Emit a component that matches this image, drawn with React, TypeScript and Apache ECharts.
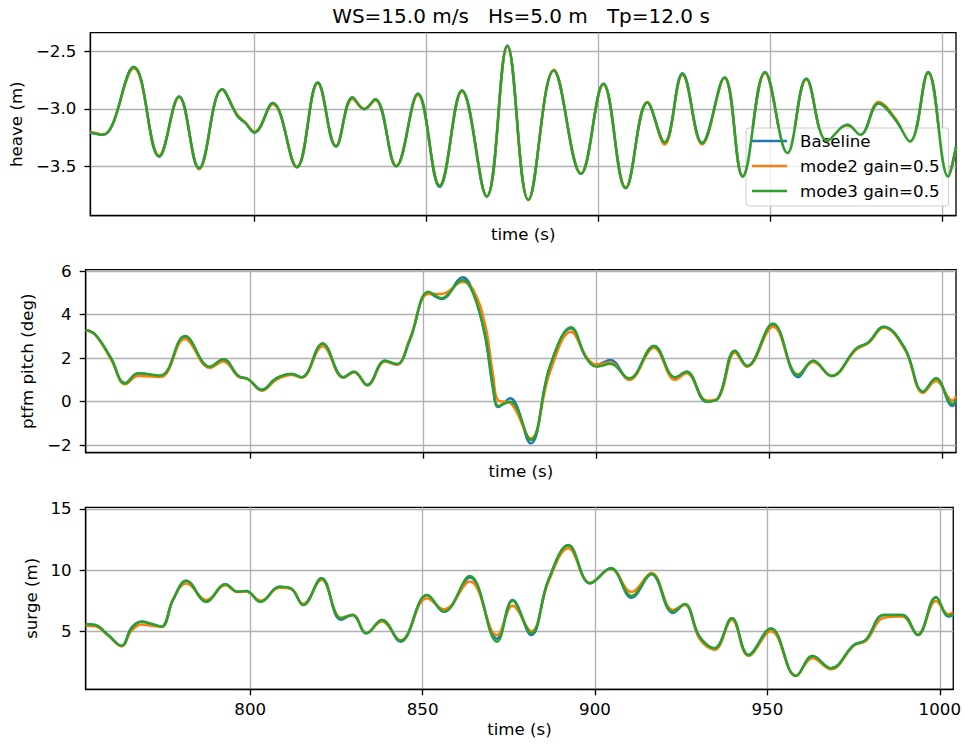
import { useEffect, useRef } from "react";
import * as echarts from "echarts";

// ---- time axis -------------------------------------------------------------
const timeMin = 752.3;
const timeMax = 1003.9;
const timeTicks = [800, 850, 900, 950, 1000];

// ---- heave (m) ------------------------------------------------------------
const heaveTicks = [-3.5, -3.0, -2.5];
const heaveTime = [
  752.3, 756.0, 764.9, 772.3, 778.1, 783.9, 790.6, 795.0, 797.4, 800.0,
  805.3, 812.3, 818.4, 823.7, 828.5, 831.9, 835.1, 841.2, 847.5, 853.8,
  860.3, 867.5, 873.5, 879.6, 887.0, 894.9, 901.4, 907.9, 914.2, 919.2,
  924.4, 930.1, 936.6, 941.9, 948.4, 954.9, 960.4, 966.5, 972.3, 976.1,
  981.4, 986.2, 990.5, 995.8, 1001.6, 1003.9,
];
const heaveBaseline = [
  -3.206, -3.226, -2.637, -3.415, -2.893, -3.515, -2.829, -3.06, -3.125, -3.206,
  -2.95, -3.505, -2.771, -3.328, -2.902, -3.003, -2.916, -3.5, -2.87, -3.68,
  -2.841, -3.763, -2.452, -3.791, -2.667, -3.565, -2.783, -3.69, -2.945, -3.293,
  -2.69, -3.298, -2.728, -3.589, -2.681, -3.385, -2.739, -3.28, -3.139, -3.226,
  -2.951, -3.09, -3.284, -2.681, -3.589, -3.33,
];
const heaveMode2 = [
  -3.2, -3.225, -2.65, -3.405, -2.9, -3.525, -2.835, -3.05, -3.12, -3.2,
  -2.96, -3.505, -2.78, -3.32, -2.915, -3.0, -2.925, -3.495, -2.88, -3.665,
  -2.85, -3.76, -2.46, -3.795, -2.66, -3.56, -2.79, -3.685, -2.94, -3.31,
  -2.705, -3.31, -2.735, -3.585, -2.69, -3.38, -2.745, -3.285, -3.145, -3.23,
  -2.94, -3.08, -3.295, -2.69, -3.58, -3.34,
];
const heaveMode3 = [
  -3.206, -3.226, -2.637, -3.415, -2.893, -3.52, -2.829, -3.06, -3.125, -3.206,
  -2.95, -3.51, -2.771, -3.328, -2.902, -3.003, -2.916, -3.5, -2.87, -3.67,
  -2.841, -3.763, -2.452, -3.791, -2.667, -3.565, -2.783, -3.69, -2.945, -3.293,
  -2.698, -3.298, -2.728, -3.589, -2.681, -3.385, -2.739, -3.28, -3.139, -3.226,
  -2.951, -3.09, -3.284, -2.681, -3.589, -3.33,
];

// ---- platform pitch (deg) --------------------------------------------------
const pitchTicks = [-2, 0, 2, 4, 6];
const pitchTime = [
  752.3, 755.0, 759.6, 763.7, 767.5, 773.9, 781.0, 788.2, 792.1, 796.4,
  799.3, 803.2, 807.4, 811.8, 814.7, 820.8, 826.8, 829.9, 833.7, 838.8,
  842.2, 846.0, 851.4, 855.2, 861.3, 864.3, 867.7, 870.1, 871.6, 875.0,
  880.9, 886.5, 892.6, 897.1, 900.0, 904.0, 909.4, 916.6, 922.7, 926.0,
  931.8, 935.1, 940.0, 943.5, 951.0, 958.3, 962.6, 967.9, 975.1, 978.5,
  983.0, 989.1, 994.4, 998.1, 1002.9, 1003.9,
];
const pitchBaseline = [
  3.3, 3.1, 2.0, 0.84, 1.3, 1.15, 3.0, 1.58, 1.95, 1.18,
  1.03, 0.55, 1.07, 1.27, 1.12, 2.66, 1.12, 1.38, 0.76, 1.88,
  1.7, 2.84, 5.0, 4.72, 5.72, 5.05, 3.05, 0.55, -0.25, 0.15,
  -1.92, 1.61, 3.38, 1.99, 1.7, 1.92, 1.0, 2.56, 1.1, 1.38,
  0.0, 0.15, 2.34, 1.64, 3.55, 1.12, 1.88, 1.18, 2.45, 2.71,
  3.45, 2.45, 0.46, 1.07, -0.2, 0.05,
];
const pitchMode2 = [
  3.28, 3.08, 1.95, 0.8, 1.18, 1.13, 2.88, 1.55, 1.85, 1.15,
  1.03, 0.5, 1.0, 1.22, 1.1, 2.56, 1.1, 1.35, 0.74, 1.85,
  1.7, 2.9, 4.95, 4.95, 5.5, 5.15, 3.6, 1.2, 0.05, -0.05,
  -1.7, 1.35, 3.22, 2.05, 1.7, 1.8, 1.0, 2.48, 1.0, 1.3,
  0.05, 0.15, 2.25, 1.6, 3.45, 1.25, 1.82, 1.18, 2.4, 2.68,
  3.4, 2.4, 0.4, 0.95, 0.05, 0.25,
];
const pitchMode3 = [
  3.3, 3.1, 2.0, 0.84, 1.3, 1.2, 3.02, 1.61, 1.95, 1.18,
  1.03, 0.53, 1.07, 1.27, 1.12, 2.68, 1.12, 1.38, 0.76, 1.88,
  1.73, 2.84, 5.06, 4.76, 5.6, 4.99, 3.14, 0.69, -0.2, 0.0,
  -1.77, 1.61, 3.42, 1.99, 1.61, 1.74, 1.07, 2.56, 1.12, 1.38,
  0.0, 0.15, 2.34, 1.64, 3.6, 1.22, 1.88, 1.18, 2.45, 2.71,
  3.45, 2.45, 0.46, 1.07, -0.11, 0.11,
];

// ---- surge (m) --------------------------------------------------------------
const surgeTicks = [5, 10, 15];
const surgeTime = [
  752.3, 755.0, 758.8, 762.7, 765.6, 768.5, 771.4, 774.3, 777.6, 781.5,
  787.3, 792.8, 796.4, 798.8, 803.0, 808.5, 811.8, 815.4, 820.7, 826.3,
  829.7, 833.7, 838.2, 843.6, 851.3, 856.2, 863.7, 871.6, 876.1, 881.5,
  886.5, 892.3, 898.6, 904.6, 910.6, 916.4, 922.6, 926.0, 930.3, 934.7,
  939.7, 944.5, 951.0, 958.3, 963.1, 968.4, 975.1, 978.5, 983.8, 989.1,
  993.6, 998.9, 1002.5, 1003.9,
];
const surgeBaseline = [
  5.57, 5.51, 4.7, 3.8, 5.3, 5.8, 5.6, 5.38, 7.56, 9.13,
  7.42, 8.84, 8.23, 8.29, 7.42, 8.64, 8.51, 7.15, 9.33, 5.95,
  6.33, 4.84, 5.92, 4.15, 7.96, 6.6, 9.4, 4.4, 7.55, 4.7,
  9.19, 12.0, 8.92, 10.14, 7.75, 9.68, 6.5, 7.2, 4.56, 3.61,
  6.06, 3.07, 5.24, 1.35, 2.98, 1.98, 3.88, 4.29, 6.33, 6.33,
  4.7, 7.78, 6.2, 6.35,
];
const surgeMode2 = [
  5.45, 5.42, 4.65, 3.78, 5.05, 5.55, 5.45, 5.35, 7.6, 8.9,
  7.55, 8.75, 8.2, 8.25, 7.5, 8.55, 8.45, 7.25, 9.2, 6.1,
  6.35, 4.85, 5.8, 4.25, 7.7, 6.8, 9.06, 4.69, 7.08, 5.0,
  9.05, 11.77, 8.95, 10.1, 8.2, 9.75, 6.75, 7.15, 4.4, 3.5,
  5.95, 3.0, 5.0, 1.4, 2.8, 1.9, 3.85, 4.2, 6.1, 6.2,
  4.75, 7.48, 6.4, 6.55,
];
const surgeMode3 = [
  5.57, 5.51, 4.7, 3.82, 5.24, 5.78, 5.6, 5.38, 7.56, 9.13,
  7.42, 8.84, 8.23, 8.29, 7.42, 8.64, 8.51, 7.15, 9.33, 6.06,
  6.33, 4.84, 5.92, 4.23, 7.96, 6.6, 9.51, 4.15, 7.5, 4.84,
  9.19, 12.04, 8.92, 10.14, 7.88, 9.68, 6.6, 7.23, 4.56, 3.61,
  6.06, 3.07, 5.24, 1.35, 2.98, 1.98, 3.88, 4.29, 6.33, 6.33,
  4.7, 7.78, 6.25, 6.4,
];

const seriesNames = ["Baseline", "mode2 gain=0.5", "mode3 gain=0.5"];
const seriesColors = ["#1f77b4", "#ff7f0e", "#2ca02c"];

const FONT = "'DejaVu Sans', 'Liberation Sans', sans-serif";
const FS = 16.67;
const MINUS = "\u2212";

const fmt = (digits: number) => (v: number) => {
  const s = Math.abs(v).toFixed(digits);
  return v < 0 ? MINUS + s : s;
};

// panel geometry (px)
const PLOT_LEFT = 85.7;
const PLOT_WIDTH = 870.3;
const panels = [
  { top: 32.7, height: 183 },
  { top: 269.7, height: 183 },
  { top: 507.3, height: 182 },
];

const pairs = (t: number[], v: number[]) => t.map((x, i) => [x, v[i]]);

export default function App() {
  const ref = useRef<HTMLDivElement>(null);

  useEffect(() => {
    if (!ref.current) return;
    const chart = echarts.init(ref.current, undefined, { renderer: "svg" });

    const textStyle = { fontFamily: FONT, fontSize: FS, color: "#000" };

    const xAxis = panels.map((_, i) => ({
      type: "value",
      gridIndex: i,
      min: timeMin,
      max: timeMax,
      name: "time (s)",
      nameLocation: "middle",
      nameGap: i === 2 ? 32 : 10,
      nameTextStyle: textStyle,
      axisLine: { show: true, onZero: false, lineStyle: { color: "#000", width: 1.33 } },
      axisTick: {
        show: true,
        length: 6,
        customValues: timeTicks,
        lineStyle: { color: "#000", width: 1.33 },
      },
      axisLabel: {
        show: i === 2,
        customValues: timeTicks,
        margin: 12,
        ...textStyle,
        formatter: (v: number) => String(v),
      },
      splitLine: { show: true, lineStyle: { color: "#b0b0b0", width: 1.33 } },
    }));

    const yDefs = [
      { name: "heave (m)", min: -3.93, max: -2.338, ticks: heaveTicks, digits: 1, gap: 58 },
      { name: "ptfm pitch (deg)", min: -2.35, max: 6.07, ticks: pitchTicks, digits: 0, gap: 35 },
      { name: "surge (m)", min: 0.27, max: 15.12, ticks: surgeTicks, digits: 0, gap: 35 },
    ];
    const yAxis = yDefs.map((d, i) => ({
      type: "value",
      gridIndex: i,
      min: d.min,
      max: d.max,
      name: d.name,
      nameLocation: "middle",
      nameRotate: 90,
      nameGap: d.gap,
      nameTextStyle: textStyle,
      axisLine: { show: true, onZero: false, lineStyle: { color: "#000", width: 1.33 } },
      axisTick: {
        show: true,
        length: 6,
        customValues: d.ticks,
        lineStyle: { color: "#000", width: 1.33 },
      },
      axisLabel: {
        show: true,
        customValues: d.ticks,
        margin: 14,
        ...textStyle,
        formatter: fmt(d.digits),
      },
      splitLine: { show: true, lineStyle: { color: "#b0b0b0", width: 1.33 } },
    }));

    const panelData = [
      [heaveBaseline, heaveMode2, heaveMode3].map((v) => pairs(heaveTime, v)),
      [pitchBaseline, pitchMode2, pitchMode3].map((v) => pairs(pitchTime, v)),
      [surgeBaseline, surgeMode2, surgeMode3].map((v) => pairs(surgeTime, v)),
    ];

    const series: any[] = [];
    panelData.forEach((group, p) => {
      group.forEach((data, k) => {
        series.push({
          type: "line",
          name: seriesNames[k],
          xAxisIndex: p,
          yAxisIndex: p,
          data,
          smooth: 0.4,
          symbol: "none",
          color: seriesColors[k],
          lineStyle: { color: seriesColors[k], width: 2.5 },
          z: 2 + k,
        });
      });
    });

    chart.setOption({
      animation: false,
      backgroundColor: "#fff",
      title: {
        text: "WS=15.0 m/s   Hs=5.0 m   Tp=12.0 s",
        left: 521,
        top: 6,
        padding: 0,
        textAlign: "center",
        textStyle: { fontFamily: FONT, fontSize: 20, fontWeight: "normal", color: "#000" },
      },
      legend: {
        data: seriesNames,
        orient: "vertical",
        left: 746,
        top: 128,
        padding: [3, 9, 5, 6],
        itemGap: 5,
        itemWidth: 35,
        itemHeight: 2.5,
        icon: "rect",
        backgroundColor: "rgba(255,255,255,0.8)",
        borderColor: "#cccccc",
        borderWidth: 1,
        borderRadius: 3,
        textStyle: { ...textStyle, lineHeight: 20, padding: [0, 0, 0, 8] },
      },
      grid: panels.map((g) => ({
        left: PLOT_LEFT,
        top: g.top,
        width: PLOT_WIDTH,
        height: g.height,
        show: true,
        borderColor: "#000",
        borderWidth: 1.33,
        backgroundColor: "transparent",
        containLabel: false,
      })),
      xAxis,
      yAxis,
      series,
    });

    return () => chart.dispose();
  }, []);

  return (
    <div
      ref={ref}
      style={{ position: "fixed", left: 0, top: 0, width: 964, height: 745, background: "#fff" }}
    />
  );
}
